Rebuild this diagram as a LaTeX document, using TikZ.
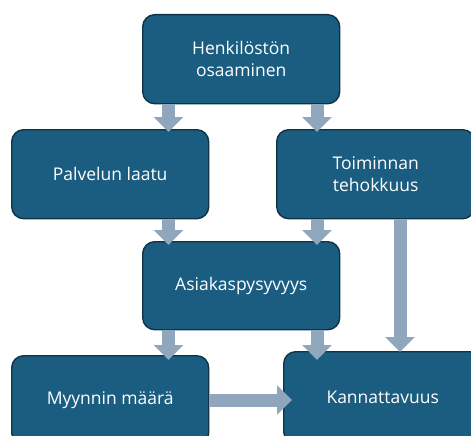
\documentclass[tikz,border=0pt]{standalone}
\usepackage{fontspec}
\setmainfont{Open Sans}
\usetikzlibrary{arrows.meta,calc}
\definecolor{boxfill}{HTML}{1B5D80}
\definecolor{boxline}{HTML}{0F3247}
\definecolor{arrowfill}{HTML}{8FA6BD}
\tikzset{
  box/.style={draw=boxline, fill=boxfill, line width=1.4pt, rounded corners=12pt,
    anchor=north west, text=white, align=center, inner sep=0pt,
    font=\fontsize{17.5}{22}\selectfont},
  blockarrow/.style={draw=arrowfill, line width=13pt,
    -{Triangle[width=29pt,length=15pt]}},
}
\begin{document}
\begin{tikzpicture}[x=1pt,y=-1pt]
\useasboundingbox (0,0) rectangle (471,436);
\clip (0,0) rectangle (471,436);
\node[box, minimum width=197pt, minimum height=89pt] (H) at (142,14) {Henkilöstön\\osaaminen};
\node[box, minimum width=197pt, minimum height=89pt] (P) at (11,129) {Palvelun laatu};
\node[box, minimum width=198pt, minimum height=89pt] (T) at (276,129) {Toiminnan\\tehokkuus};
\node[box, minimum width=197pt, minimum height=88pt] (A) at (142,241) {Asiakaspysyvyys};
\node[box, minimum width=197pt, minimum height=89pt] (M) at (11,355) {Myynnin määrä};
\node[box, minimum width=198pt, minimum height=92pt] (K) at (283,351) {Kannattavuus};
\coordinate (xl) at (168.5,0);
\coordinate (xm) at (317,0);
\coordinate (xr) at (400,0);
\coordinate (yb) at (0,400);
\draw[blockarrow] (xl |- H.south) -- ($(xl |- P.north)+(0,3)$);
\draw[blockarrow] (xm |- H.south) -- ($(xm |- T.north)+(0,3)$);
\draw[blockarrow] (xl |- P.south) -- ($(xl |- A.north)+(0,4)$);
\draw[blockarrow] (xm |- T.south) -- ($(xm |- A.north)+(0,4)$);
\draw[blockarrow] (xr |- T.south) -- ($(xr |- K.north)+(0,1)$);
\draw[blockarrow] (xl |- A.south) -- ($(xl |- M.north)+(0,5)$);
\draw[blockarrow] (xm |- A.south) -- ($(xm |- K.north)+(0,9)$);
\draw[blockarrow] (M.east |- yb) -- ($(K.west |- yb)+(9,0)$);
\end{tikzpicture}
\end{document}
